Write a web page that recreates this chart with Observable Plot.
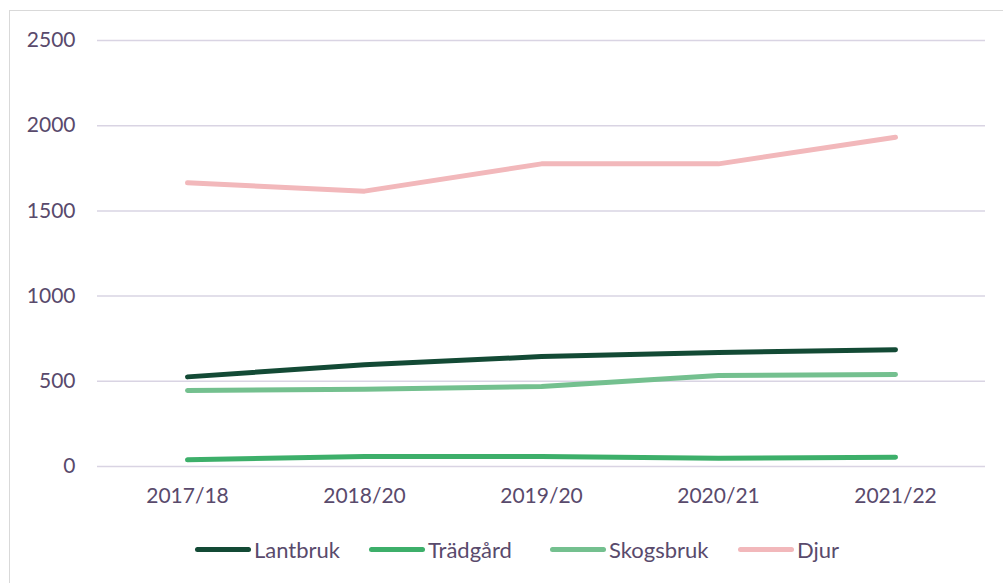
<!DOCTYPE html>
<html>
<head>
<meta charset="utf-8">
<script src="https://cdn.jsdelivr.net/npm/d3@7"></script>
<script src="https://cdn.jsdelivr.net/npm/@observablehq/plot@0.6"></script>
<style>
  html, body { margin: 0; padding: 0; background: #fff; width: 1003px; height: 583px; overflow: hidden; }
  #frame { position: absolute; left: 9px; top: 10px; width: 1010px; height: 600px; border-left: 1.5px solid #d9d9d9; border-top: 1.5px solid #d9d9d9; box-sizing: border-box; }
  #chart { position: absolute; left: 0; top: 0; }
  #legend { position: absolute; left: 0; top: 536px; width: 1003px; height: 30px; font-family: Lato, sans-serif; font-size: 22px; color: #594a6c; }
  .item { position: absolute; top: 0; display: flex; align-items: center; }
  .sw { width: 56px; height: 5px; border-radius: 3px; margin-right: 3px; }
</style>
</head>
<body>
<div id="frame"></div>
<div id="chart"></div>
<div id="legend"></div>
<script>
const years = ["2017/18", "2018/20", "2019/20", "2020/21", "2021/22"];
const seriesNames = ["Lantbruk", "Trädgård", "Skogsbruk", "Djur"];
const lantbruk = [526, 597, 645, 669, 685];
const tradgard = [39, 59, 59, 49, 55];
const skogsbruk = [446, 454, 469, 534, 540];
const djur = [1665, 1616, 1776, 1776, 1932];
const colors = ["#134a35", "#3daf6a", "#74c08f", "#f2b8bb"];
const yTicks = [0, 500, 1000, 1500, 2000, 2500];
const legendLeft = [195, 369, 550, 738];

const valuesBySeries = [lantbruk, tradgard, skogsbruk, djur];
const data = [];
seriesNames.forEach((s, i) => years.forEach((y, j) => data.push({series: s, year: y, value: valuesBySeries[i][j]})));

const plot = Plot.plot({
  width: 1003,
  height: 525,
  marginLeft: 97,
  marginRight: 18,
  marginTop: 40,
  marginBottom: 59,
  style: { fontFamily: "Lato, sans-serif", fontSize: "21px", color: "#594a6c", background: "transparent" },
  x: { type: "point", domain: years, padding: 0.5, label: null },
  y: { domain: [0, 2500], label: null },
  color: { domain: seriesNames, range: colors },
  marks: [
    Plot.ruleY(yTicks, { stroke: "#d9d4e3", strokeWidth: 1.5, strokeOpacity: 1 }),
    Plot.axisY({ ticks: yTicks, tickSize: 0, tickPadding: 22, label: null, tickFormat: d => String(d) }),
    Plot.axisX({ tickSize: 0, tickPadding: 22, label: null }),
    Plot.line(data, { x: "year", y: "value", z: "series", stroke: "series", strokeWidth: 5, strokeLinecap: "round", strokeLinejoin: "round" })
  ]
});
document.getElementById("chart").appendChild(plot);

const legend = document.getElementById("legend");
seriesNames.forEach((s, i) => {
  const it = document.createElement("div");
  it.className = "item";
  it.style.left = legendLeft[i] + "px";
  const sw = document.createElement("div");
  sw.className = "sw";
  sw.style.background = colors[i];
  const t = document.createElement("span");
  t.textContent = s;
  it.appendChild(sw); it.appendChild(t);
  legend.appendChild(it);
});
</script>
</body>
</html>
